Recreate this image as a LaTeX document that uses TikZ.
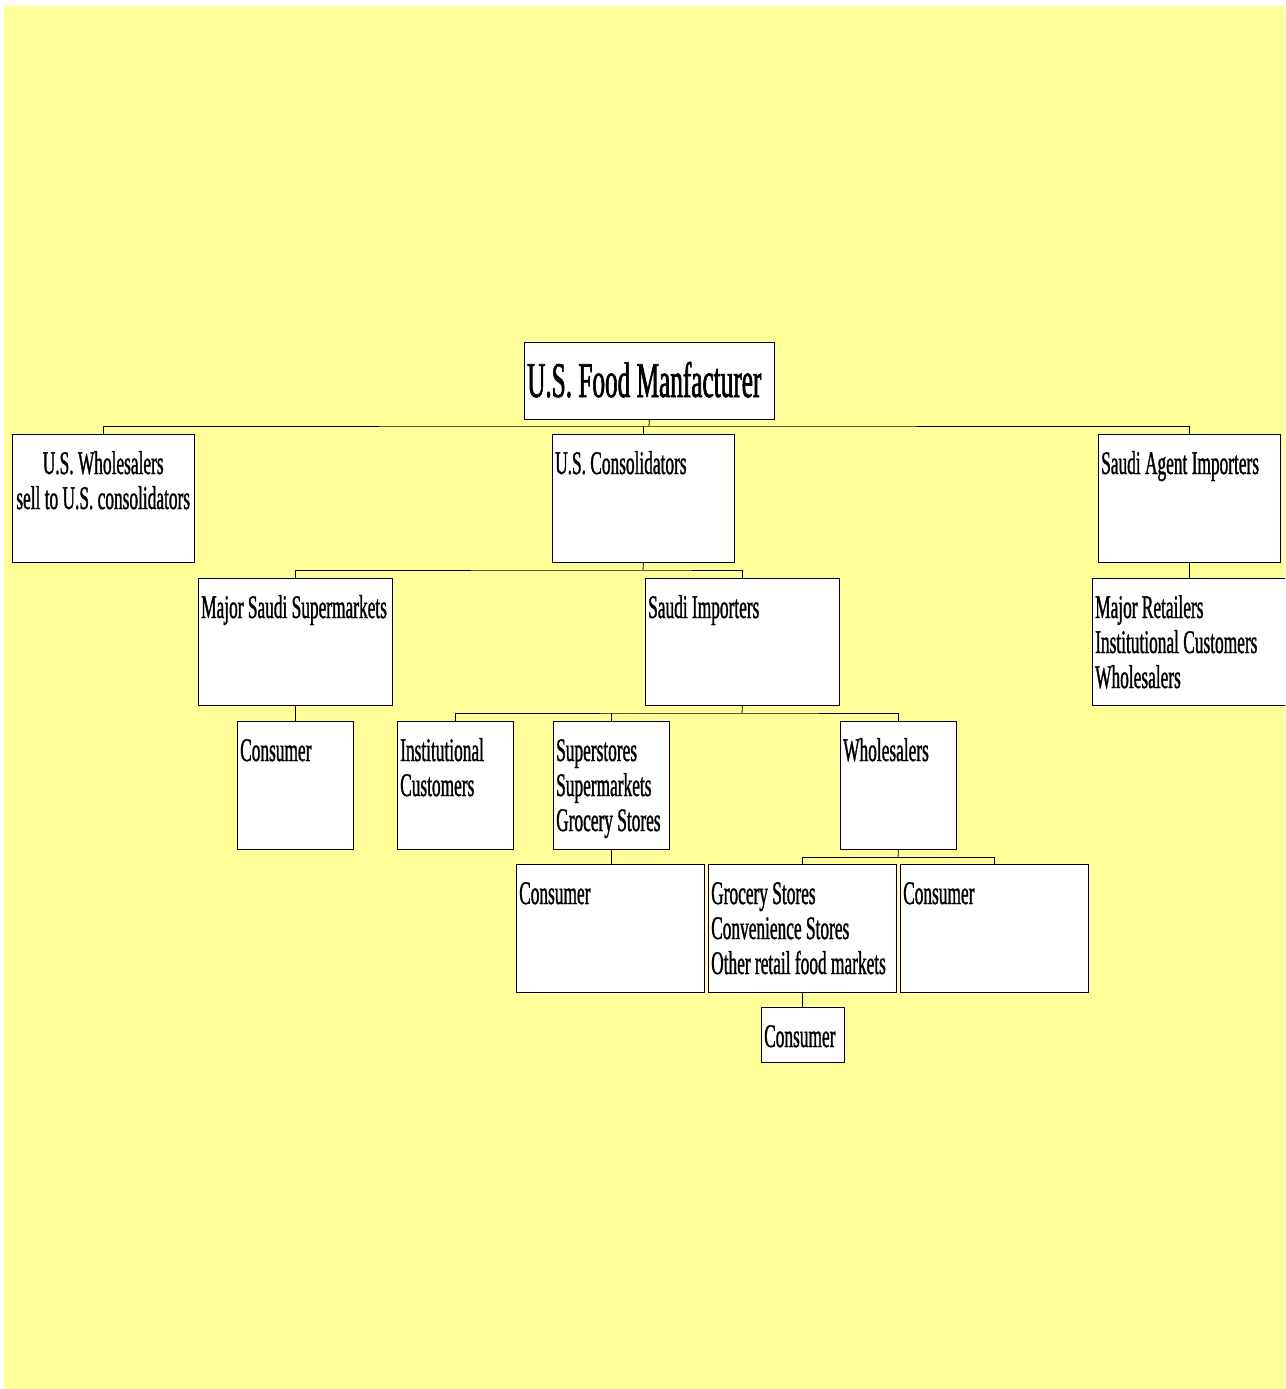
\documentclass[tikz,border=0pt]{standalone}
\usepackage{fontspec}
\setmainfont{Liberation Serif}
\newfontfamily\cond[FakeStretch=0.525,FakeBold=1]{Liberation Serif}
\newfontfamily\condt[FakeStretch=0.505,FakeBold=1.2]{Liberation Serif}
\definecolor{bgyellow}{HTML}{FFFF99}
\tikzset{
  box/.style={draw=black, fill=white, line width=0.8pt, inner sep=0pt, anchor=north west},
  txt/.style={inner sep=0pt, anchor=base west, font=\cond\fontsize{33}{35}\selectfont},
  ttl/.style={inner sep=0pt, anchor=base west, font=\condt\fontsize{50}{52}\selectfont},
  conn/.style={draw=black, line width=0.8pt},
}
\begin{document}
\begin{tikzpicture}[x=1pt,y=-1pt]
\useasboundingbox (0,0) rectangle (1285,1389);
\clip (0,0) rectangle (1285,1389);
\fill[white] (0,0) rectangle (1285,1389);
\fill[bgyellow] (4,6) rectangle (1285,1389);

% boxes
\node[box, minimum width=250, minimum height=77] (root) at (524,342) {};
\node[box, minimum width=182, minimum height=128] (uw) at (12,434) {};
\node[box, minimum width=182, minimum height=128] (cons) at (552,434) {};
\node[box, minimum width=182, minimum height=128] (sa) at (1098,434) {};
\node[box, minimum width=194, minimum height=127] (mss) at (198,578) {};
\node[box, minimum width=194, minimum height=127] (si) at (645,578) {};
\node[box, minimum width=200, minimum height=127] (mr) at (1092,578) {};
\node[box, minimum width=116, minimum height=128] (c1) at (237,721) {};
\node[box, minimum width=116, minimum height=128] (ic) at (397,721) {};
\node[box, minimum width=116, minimum height=128] (ss) at (553,721) {};
\node[box, minimum width=116, minimum height=128] (wh) at (840,721) {};
\node[box, minimum width=188, minimum height=128] (c2) at (516,864) {};
\node[box, minimum width=188, minimum height=128] (gs) at (708,864) {};
\node[box, minimum width=188, minimum height=128] (c3) at (900,864) {};
\node[box, minimum width=83, minimum height=55] (c4) at (761,1007) {};

% texts
\node[ttl] (roott) at (527,397) {U.S. Food Manfacturer};
\node[txt] (uwt) at (12,474) {\parbox[t]{182pt}{\centering U.S. Wholesalers\\sell to U.S. consolidators}};
\node[txt] (const) at (555,474) {U.S. Consolidators};
\node[txt] (sat) at (1101,474) {Saudi Agent Importers};
\node[txt] (msst) at (201,618) {Major Saudi Supermarkets};
\node[txt] (sit) at (648,618) {Saudi Importers};
\node[txt] (mrt) at (1095,618) {\parbox[t]{190pt}{Major Retailers\\Institutional Customers\\Wholesalers}};
\node[txt] (c1t) at (240,761) {Consumer};
\node[txt] (ict) at (400,761) {\parbox[t]{112pt}{Institutional\\Customers}};
\node[txt] (sst) at (556,761) {\parbox[t]{112pt}{Superstores\\Supermarkets\\Grocery Stores}};
\node[txt] (wht) at (843,761) {Wholesalers};
\node[txt] (c2t) at (519,904) {Consumer};
\node[txt] (gst) at (711,904) {\parbox[t]{185pt}{Grocery Stores\\Convenience Stores\\Other retail food markets}};
\node[txt] (c3t) at (903,904) {Consumer};
\node[txt] (c4t) at (764,1047) {Consumer};

% connectors
\coordinate (b1) at (649,426);
\draw[conn] (root.south) -- (b1);
\draw[conn] (uw.north) |- (b1) -| (sa.north);
\draw[conn] (cons.north) -- (cons.north |- b1);

\coordinate (b2) at (643,570);
\draw[conn] (cons.south) -- (b2);
\draw[conn] (mss.north) |- (b2) -| (si.north);

\draw[conn] (sa.south) -- (sa.south |- mr.north);

\draw[conn] (mss.south) -- (c1.north);

\coordinate (b3) at (742,713);
\draw[conn] (si.south) -- (b3);
\draw[conn] (ic.north) |- (b3) -| (wh.north);
\draw[conn] (ss.north) -- (ss.north |- b3);

\draw[conn] (ss.south) -- (ss.south |- c2.north);

\coordinate (b4) at (898,857);
\draw[conn] (wh.south) -- (b4);
\draw[conn] (gs.north) |- (b4) -| (c3.north);

\draw[conn] (gs.south) -- (gs.south |- c4.north);
\end{tikzpicture}
\end{document}
